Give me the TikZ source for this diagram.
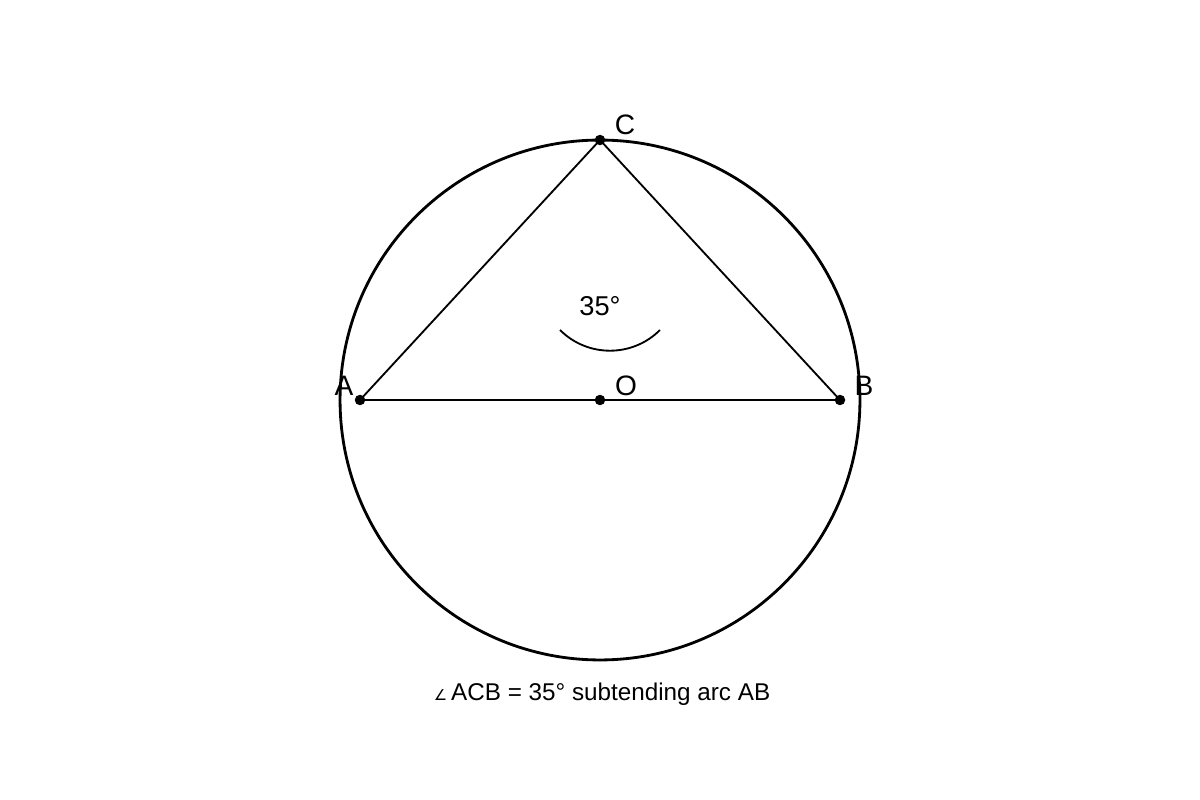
\documentclass[tikz,border=0pt]{standalone}
\usepackage{fontspec}
\setmainfont{Liberation Sans}
\newfontfamily\symfont{DejaVu Sans}
\begin{document}
\begin{tikzpicture}[x=0.02cm,y=-0.02cm,
  dot/.style={circle,fill=black,inner sep=0pt,minimum size=0.21cm},
  lbl/.style={font=\fontsize{16pt}{18pt}\selectfont,inner sep=0pt,anchor=base},
  seg/.style={line width=1.05pt}]
\useasboundingbox (0,0) rectangle (1200,800);
\coordinate (O0) at (600,400);
\draw[line width=1.6pt] (O0) circle[radius=5.2cm];
\node[dot] (A) at (360,400) {};
\node[dot] (B) at (840,400) {};
\node[dot] (C) at (600,140) {};
\node[dot] (O) at (600,400) {};
\draw[seg] (A.center) -- (C.center) -- (B.center);
\draw[seg] (A.center) -- (B.center);
\node[lbl] (la) at (344,396) {A};
\node[lbl] (lb) at (864,396) {B};
\node[lbl] (lc) at (625,135) {C};
\node[lbl] (lo) at (626,396) {O};
\node[lbl,font=\fontsize{15.5pt}{18pt}\selectfont] (ang) at (600,316) {35°};
\draw[seg] (560,330) arc[start angle=-135,end angle=-45,radius=1.414cm];
\node[lbl,font=\fontsize{13.8pt}{16pt}\selectfont] (cap) at (602,700) {{\symfont\fontsize{8.5pt}{9pt}\selectfont ∠}\,ACB = 35° subtending arc AB};
\end{tikzpicture}
\end{document}
